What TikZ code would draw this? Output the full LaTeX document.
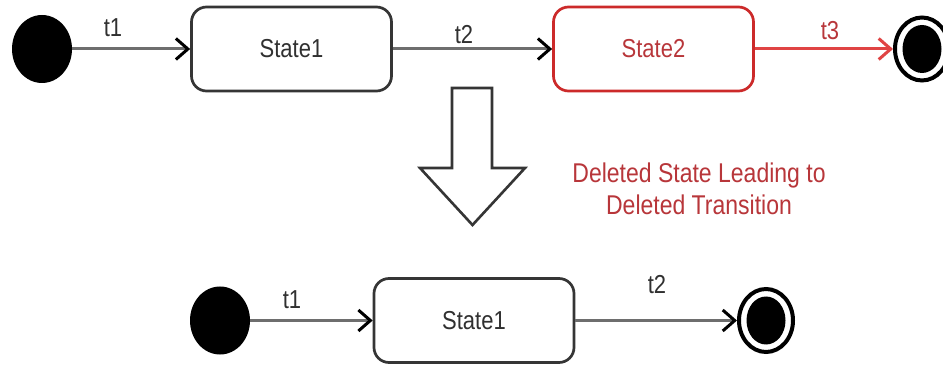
\documentclass[tikz,border=0pt]{standalone}
\usepackage{fontspec}
\usepackage{graphicx}
\setmainfont{Liberation Sans}
\usetikzlibrary{arrows.meta,shapes.geometric}
\newcommand{\vstretch}[1]{\scalebox{1}[1.18]{#1}}
\definecolor{linegray}{HTML}{6E6E6E}
\definecolor{boxgray}{HTML}{353535}
\definecolor{textgray}{HTML}{303030}
\definecolor{delred}{HTML}{CC2A2A}
\definecolor{deltext}{HTML}{B8363A}
\definecolor{delline}{HTML}{E04444}
\begin{document}
\begin{tikzpicture}[x=1pt,y=-1pt,
  every node/.style={font=\fontsize{22}{31}\selectfont, text=textgray},
  startdot/.style={ellipse, fill=black, minimum width=60pt, minimum height=68pt, inner sep=0pt},
  endring/.style={ellipse, draw=black, line width=4pt, minimum width=54pt, minimum height=63pt, inner sep=0pt},
  enddisc/.style={ellipse, fill=black, minimum width=39pt, minimum height=48pt, inner sep=0pt},
  statebox/.style={rectangle, rounded corners=15pt, draw=boxgray, line width=2.7pt,
    minimum width=200pt, minimum height=84pt, fill=white},
  delbox/.style={statebox, draw=delred, text=deltext},
  trans/.style={draw=linegray, line width=3pt,
    -{Straight Barb[length=12pt,width=21pt,line width=3pt,color=black]}},
  deltrans/.style={draw=delline, line width=3pt,
    -{Straight Barb[length=12pt,width=21pt,line width=3pt,color=delline]}},
  tlabel/.style={inner sep=0pt},
  blockarrow/.style={draw=boxgray, line width=2.6pt, fill=white, line join=miter}
]
\useasboundingbox[fill=white] (0,0) rectangle (943,366);

% --- original machine ---
\node[startdot] (i1) at (42,49) {};
\node[statebox] (s1) at (291.5,49) {\vstretch{State1}};
\node[delbox] (s2) at (653.5,49) {\vstretch{State2}};
\node[endring] (f1) at (922,49) {};
\node[enddisc] (f1in) at (922,49) {};

\draw[trans] (i1) -- (s1);
\draw[trans] (s1) -- (s2);
\draw[deltrans] (s2) -- (f1);

\node[tlabel] (l1) at (113,28) {\vstretch{t1}};
\node[tlabel] (l2) at (464,35) {\vstretch{t2}};
\node[tlabel, text=deltext] (l3) at (830,31) {\vstretch{t3}};

% --- transformation arrow and note ---
\draw[blockarrow] (452,88) -- (492,88) -- (492,168) -- (525,168) -- (472.5,225)
  -- (420,168) -- (452,168) -- cycle;
\node[align=center, text=deltext, font=\fontsize{23}{32}\selectfont] (note) at (699,189)
  {\vstretch{Deleted State Leading to}\\\vstretch{Deleted Transition}};

% --- resulting machine ---
\node[startdot] (i2) at (220,320.5) {};
\node[statebox] (s3) at (474,320.5) {\vstretch{State1}};
\node[endring] (f2) at (766,320.5) {};
\node[enddisc] (f2in) at (766,320.5) {};

\draw[trans] (i2) -- (s3);
\draw[trans] (s3) -- (f2);

\node[tlabel] (l4) at (292,300) {\vstretch{t1}};
\node[tlabel] (l5) at (657,285) {\vstretch{t2}};
\end{tikzpicture}
\end{document}
